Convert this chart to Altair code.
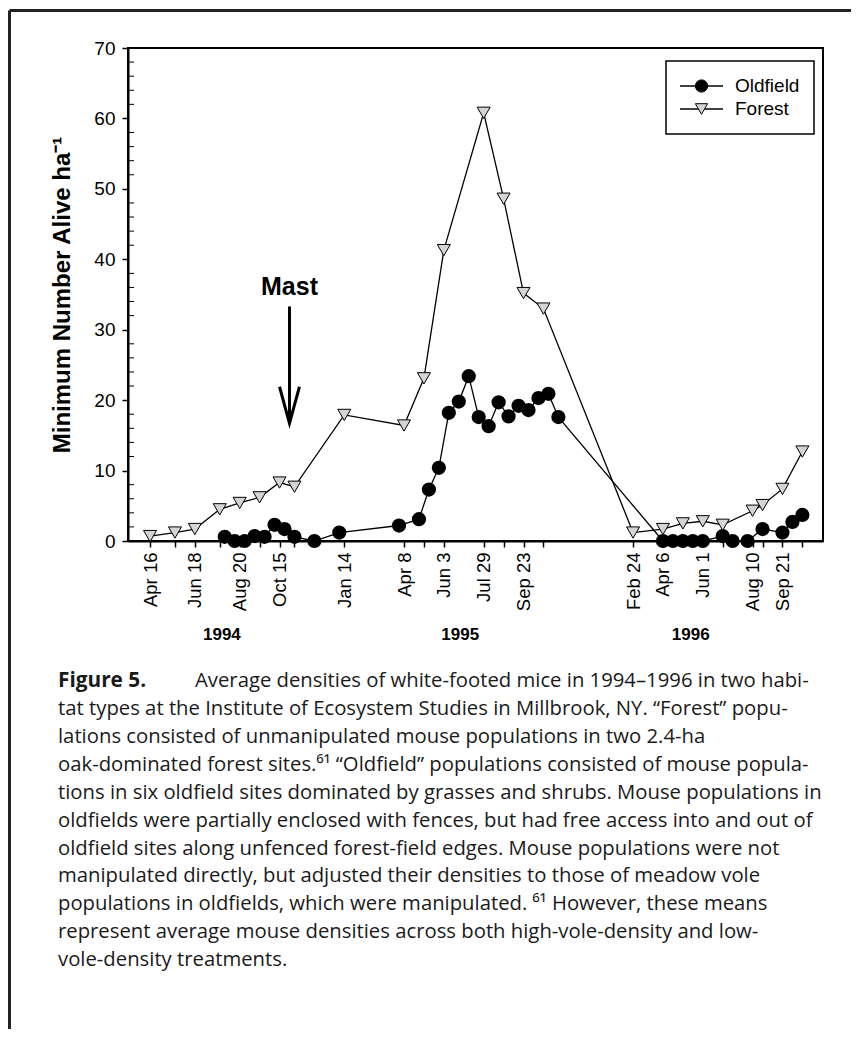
import altair as alt
import pandas as pd

# ---------------- data ----------------
forest_dates = ["1994-04-16", "1994-05-21", "1994-06-18", "1994-07-23", "1994-08-20",
                "1994-09-17", "1994-10-15", "1994-11-05", "1995-01-14", "1995-04-08",
                "1995-05-06", "1995-06-03", "1995-07-29", "1995-08-26", "1995-09-23",
                "1995-10-21", "1996-02-24", "1996-04-06", "1996-05-04", "1996-06-01",
                "1996-06-29", "1996-08-10", "1996-08-24", "1996-09-21", "1996-10-19"]
forest_values = [0.7, 1.2, 1.7, 4.5, 5.4, 6.2, 8.3, 7.7, 17.9, 16.4,
                 23.1, 41.3, 60.8, 48.6, 35.2, 33.0, 1.2, 1.7, 2.5, 2.8,
                 2.3, 4.3, 5.1, 7.4, 12.7]

oldfield_dates = ["1994-07-30", "1994-08-13", "1994-08-27", "1994-09-10", "1994-09-24",
                  "1994-10-08", "1994-10-22", "1994-11-05", "1994-12-03", "1995-01-07",
                  "1995-04-01", "1995-04-29", "1995-05-13", "1995-05-27", "1995-06-10",
                  "1995-06-24", "1995-07-08", "1995-07-22", "1995-08-05", "1995-08-19",
                  "1995-09-02", "1995-09-16", "1995-09-30", "1995-10-14", "1995-10-28",
                  "1995-11-11", "1996-04-06", "1996-04-20", "1996-05-04", "1996-05-18",
                  "1996-06-01", "1996-06-29", "1996-07-13", "1996-08-03", "1996-08-24",
                  "1996-09-21", "1996-10-05", "1996-10-19"]
oldfield_values = [0.6, 0.0, 0.0, 0.7, 0.6, 2.3, 1.7, 0.6, 0.0, 1.2,
                   2.2, 3.1, 7.3, 10.4, 18.2, 19.8, 23.4, 17.6, 16.3, 19.7,
                   17.7, 19.2, 18.6, 20.3, 20.9, 17.6, 0.0, 0.0, 0.0, 0.0,
                   0.0, 0.7, 0.0, 0.0, 1.7, 1.2, 2.7, 3.7]

label_dates = ["1994-04-16", "1994-06-18", "1994-08-20", "1994-10-15", "1995-01-14",
               "1995-04-08", "1995-06-03", "1995-07-29", "1995-09-23", "1996-02-24",
               "1996-04-06", "1996-06-01", "1996-08-10", "1996-09-21"]

year_labels = ["1994", "1995", "1996"]
year_dates = ["1994-07-26", "1995-06-26", "1996-05-15"]

y_major = [0, 10, 20, 30, 40, 50, 60, 70]
y_minor = [v for v in range(0, 71, 2) if v % 10 != 0]

mast_label = "Mast"
mast_date = "1994-10-29"
mast_text_value = 36.1
mast_shaft = [33.3, 16.7]
mast_head_dates = ["1994-10-15", "1994-10-29", "1994-11-12"]
mast_head_values = [21.9, 16.7, 21.9]

legend_names = ["Oldfield", "Forest"]

caption_lead = "Figure 5."
caption_first = "Average densities of white-footed mice in 1994\u20131996 in two habi-"
caption_lines = [
    "tat types at the Institute of Ecosystem Studies in Millbrook, NY. \u201cForest\u201d popu-",
    "lations consisted of unmanipulated mouse populations in two 2.4-ha",
    "oak-dominated forest sites.\u2076\u00b9 \u201cOldfield\u201d populations consisted of mouse popula-",
    "tions in six oldfield sites dominated by grasses and shrubs. Mouse populations in",
    "oldfields were partially enclosed with fences, but had free access into and out of",
    "oldfield sites along unfenced forest-field edges. Mouse populations were not",
    "manipulated directly, but adjusted their densities to those of meadow vole",
    "populations in oldfields, which were manipulated. \u2076\u00b9 However, these means",
    "represent average mouse densities across both high-vole-density and low-",
    "vole-density treatments.",
]

# ---------------- helpers ----------------
def dt(s):
    t = pd.Timestamp(s)
    return alt.DateTime(year=t.year, month=t.month, date=t.day)

def key(s):
    t = pd.Timestamp(s)
    return f"{t.strftime('%b')} {t.day} {t.year}"

FONT = "Liberation Sans"
W, H = 695, 493

forest = pd.DataFrame({"date": pd.to_datetime(forest_dates), "value": forest_values})
old = pd.DataFrame({"date": pd.to_datetime(oldfield_dates), "value": oldfield_values})

x_scale = alt.Scale(domain=[dt("1994-03-16"), dt("1996-11-17")])
y_scale = alt.Scale(domain=[0, 70], nice=False, zero=True)

label_keys = ",".join(f"'{key(d)}'" for d in label_dates)
x_axis = alt.Axis(
    values=[dt(d) for d in forest_dates],
    labelExpr=f"indexof([{label_keys}], timeFormat(datum.value, '%b %-d %Y')) >= 0 ? timeFormat(datum.value, '%b %-d') : ''",
    labelAngle=270, labelFont=FONT, labelFontSize=18.5, labelColor="black",
    labelPadding=5, tickSize=6, tickWidth=1.5, tickColor="black",
    domainColor="black", domainWidth=2, grid=False, title=None, labelOverlap=False,
)
y_axis = alt.Axis(
    values=y_major, labelFont=FONT, labelFontSize=19, labelColor="black",
    labelPadding=7, tickSize=6, tickWidth=1.5, tickColor="black",
    domainColor="black", domainWidth=2, grid=False,
    title="Minimum Number Alive ha\u207b\u00b9", titleFont=FONT, titleFontSize=24,
    titleFontWeight="bold", titleColor="black", titlePadding=19,
)

X = alt.X("date:T", scale=x_scale, axis=x_axis)
Y = alt.Y("value:Q", scale=y_scale, axis=y_axis)

old_line = alt.Chart(old).mark_line(color="black", strokeWidth=1.3).encode(x=X, y=Y)
old_pts = alt.Chart(old).mark_point(shape="circle", filled=True, fill="black", stroke="black",
                                    size=150, opacity=1).encode(x=X, y=Y)
for_line = alt.Chart(forest).mark_line(color="black", strokeWidth=1.3).encode(x=X, y=Y)
for_pts = alt.Chart(forest).mark_point(shape="triangle-down", filled=True, fill="#d4d4d4",
                                       stroke="black", strokeWidth=1, size=170,
                                       opacity=1).encode(x=X, y=Y)

minor = alt.Chart(pd.DataFrame({"value": y_minor})).mark_rule(color="black", strokeWidth=1).encode(
    y=Y, x=alt.value(0), x2=alt.value(6))

# Mast annotation
mast_txt = alt.Chart(pd.DataFrame({"date": pd.to_datetime([mast_date]), "value": [mast_text_value],
                                   "t": [mast_label]})).mark_text(
    font=FONT, fontSize=25, fontWeight="bold", color="black", baseline="middle").encode(
    x=X, y=Y, text="t:N")
shaft = alt.Chart(pd.DataFrame({"date": pd.to_datetime([mast_date]), "value": [mast_shaft[0]],
                                "value2": [mast_shaft[1]]})).mark_rule(color="black", strokeWidth=3).encode(
    x=X, y=Y, y2="value2:Q")
head = alt.Chart(pd.DataFrame({"date": pd.to_datetime(mast_head_dates), "value": mast_head_values})).mark_line(
    color="black", strokeWidth=3, strokeJoin="miter").encode(x=X, y=Y)

# Year labels
years = alt.Chart(pd.DataFrame({"date": pd.to_datetime(year_dates), "t": year_labels})).mark_text(
    font=FONT, fontSize=17, fontWeight="bold", color="black", baseline="middle").encode(
    x=X, y=alt.value(587), text="t:N")

# Legend (manual, inside plot)
leg_df = pd.DataFrame({"name": legend_names})
leg_box = alt.Chart(leg_df.head(1)).mark_rect(fill="white", stroke="black", strokeWidth=1.5).encode(
    x=alt.value(538), x2=alt.value(686), y=alt.value(13), y2=alt.value(86))
leg_layers = [leg_box]
for nm, shape, fill, ypix in [("Oldfield", "circle", "black", 38),
                               ("Forest", "triangle-down", "#d4d4d4", 61)]:
    d = leg_df[leg_df.name == nm]
    leg_layers.append(alt.Chart(d).mark_rule(color="black", strokeWidth=1.3).encode(
        x=alt.value(552), x2=alt.value(595), y=alt.value(ypix)))
    leg_layers.append(alt.Chart(d).mark_point(shape=shape, filled=True, fill=fill, stroke="black",
                                              strokeWidth=1, size=150, opacity=1).encode(
        x=alt.value(573.5), y=alt.value(ypix)))
    leg_layers.append(alt.Chart(d).mark_text(font=FONT, fontSize=19, color="black", align="left",
                                             baseline="middle").encode(
        x=alt.value(607), y=alt.value(ypix), text="name:N"))

# Outer frame
frame_top = alt.Chart(leg_df.head(1)).mark_rule(color="#222", strokeWidth=3).encode(
    x=alt.value(-118.5), x2=alt.value(740), y=alt.value(-37.5))
frame_left = alt.Chart(leg_df.head(1)).mark_rule(color="#222", strokeWidth=3).encode(
    x=alt.value(-118.5), y=alt.value(-37.5), y2=alt.value(1000))

# Caption
CAP_FONT = "Open Sans"
CAP_SIZE = 20.3
cap_lead = alt.Chart(pd.DataFrame({"t": [caption_lead]})).mark_text(
    font=CAP_FONT, fontSize=CAP_SIZE + 0.5, fontWeight="bold", color="#1a1a1a", align="left",
    baseline="middle").encode(x=alt.value(-70), y=alt.value(633), text="t:N")
cap_first = alt.Chart(pd.DataFrame({"t": [caption_first]})).mark_text(
    font=CAP_FONT, fontSize=CAP_SIZE, color="#1a1a1a", align="left", baseline="middle").encode(
    x=alt.value(67), y=alt.value(633), text="t:N")
cap_rest = alt.Chart(pd.DataFrame({"t": ["\n".join(caption_lines)]})).mark_text(
    font=CAP_FONT, fontSize=CAP_SIZE, color="#1a1a1a", align="left", baseline="middle",
    lineBreak="\n", lineHeight=27.9).encode(
    x=alt.value(-70), y=alt.value(661), text="t:N")

chart = alt.layer(
    frame_top, frame_left,
    minor, old_line, for_line, old_pts, for_pts,
    shaft, head, mast_txt, years,
    *leg_layers,
    cap_lead, cap_first, cap_rest,
).properties(
    width=W, height=H,
    autosize=alt.AutoSizeParams(type="none"),
    padding={"left": 120, "top": 40, "right": 28, "bottom": 488},
).configure_view(stroke="black", strokeWidth=2)

chart.save("out.html", embed_options={"renderer": "svg", "actions": False})
